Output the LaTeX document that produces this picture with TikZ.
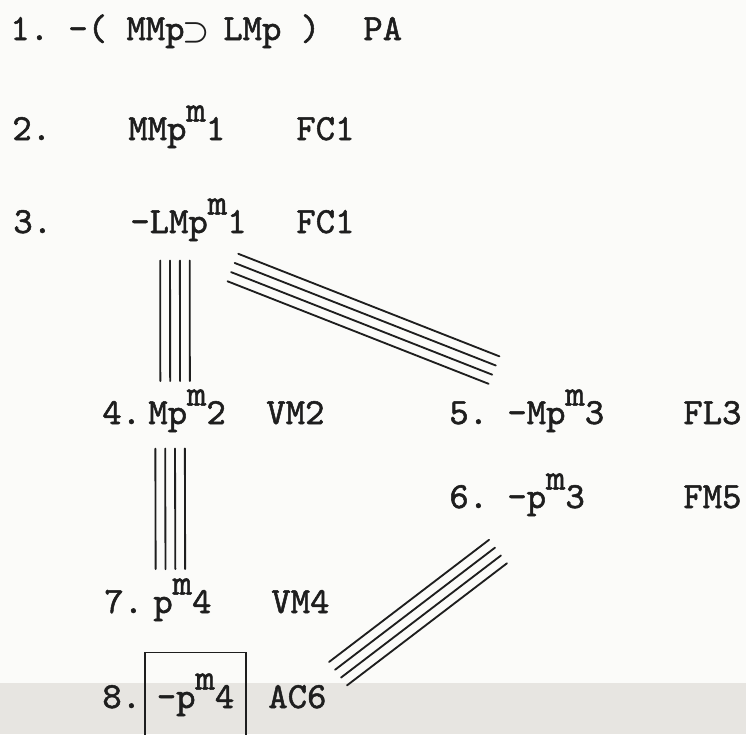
\documentclass[tikz,border=0pt]{standalone}
\usepackage{fontspec}
\setmonofont{lmmono10-regular.otf}[FakeBold=1.4]
\usetikzlibrary{calc}
\definecolor{encre}{HTML}{1E1E1E}
\definecolor{papier}{HTML}{FBFBF9}
\definecolor{bande}{HTML}{E7E5E1}
\newcommand{\expm}{\raisebox{0.5em}{m}}
\newcommand{\impl}{\makebox[0.525em]{\hspace{0.1em}\fontsize{17}{17}\selectfont\boldmath$\supset$}}
\newcommand{\quadligne}[2]{%
  \foreach \k in {-1.5,-0.5,0.5,1.5}
    \draw[trait] ($(#1)!{\k*5.6pt}!90:(#2)$) -- ($(#2)!{\k*5.6pt}!-90:(#1)$);}
\tikzset{
  ligne/.style={anchor=base west, inner sep=0pt, text=encre,
                font=\ttfamily\fontsize{21}{24}\selectfont},
  cadre/.style={ligne, draw=encre, line width=0.9pt, inner xsep=0.24cm,
                inner ysep=0.42cm, text depth=0.5cm},
  trait/.style={draw=encre, line width=1.05pt, line cap=round},
}

\begin{document}
\begin{tikzpicture}[x=0.02cm, y=-0.02cm]
  \fill[papier] (0,0) rectangle (746,734);
  \fill[bande] (0,683) rectangle (746,734);
  \useasboundingbox (0,0) rectangle (746,734);
  % lignes de la preuve
  \node[ligne] (n1) at (10,40) {1.};
  \node[ligne] (f1) at (68,40) {-( MMp\impl{} LMp )};
  \node[ligne] (j1) at (363,40) {PA};

  \node[ligne] (n2) at (12,140) {2.};
  \node[ligne] (f2) at (128,140) {MMp\expm1};
  \node[ligne] (j2) at (296,140) {FC1};

  \node[ligne] (n3) at (13,233) {3.};
  \node[ligne] (f3) at (130,233) {-LMp\expm1};
  \node[ligne] (j3) at (296,233) {FC1};

  \node[ligne] (n4) at (102,424) {4.};
  \node[ligne] (f4) at (148,424) {Mp\expm2};
  \node[ligne] (j4) at (266,424) {VM2};

  \node[ligne] (n5) at (449,424) {5.};
  \node[ligne] (f5) at (507,424) {-Mp\expm3};
  \node[ligne] (j5) at (683,424) {FL3};

  \node[ligne] (n6) at (449,508) {6.};
  \node[ligne] (f6) at (507,508) {-p\expm3};
  \node[ligne] (j6) at (683,508) {FM5};

  \node[ligne] (n7) at (104,613) {7.};
  \node[ligne] (f7) at (153,613) {p\expm4};
  \node[ligne] (j7) at (271,613) {VM4};

  \node[ligne] (n8) at (102,708) {8.};
  \node[cadre] (f8) at (144,708) {-p\expm4};
  \node[ligne] (j8) at (268,708) {AC6};

  % traits quadruples
  \coordinate (h34) at ($(f3.south)+(-13.5,19)$);
  \coordinate (b34) at ($(f4.north)+(-12,-8)$);
  \coordinate (h35) at ($(f3.south east)+(-14,26)$);
  \coordinate (b35) at ($(f5.north west)+(-13,-19)$);
  \coordinate (h47) at ($(f4.south)+(-17,16)$);
  \coordinate (b47) at ($(f7.north)+(-12,-9)$);
  \coordinate (h68) at ($(f6.south west)+(-9,35)$);
  \coordinate (b68) at ($(f8.north east)+(91,22)$);
  \quadligne{h34}{b34}
  \quadligne{h35}{b35}
  \quadligne{h47}{b47}
  \quadligne{h68}{b68}
\end{tikzpicture}
\end{document}
